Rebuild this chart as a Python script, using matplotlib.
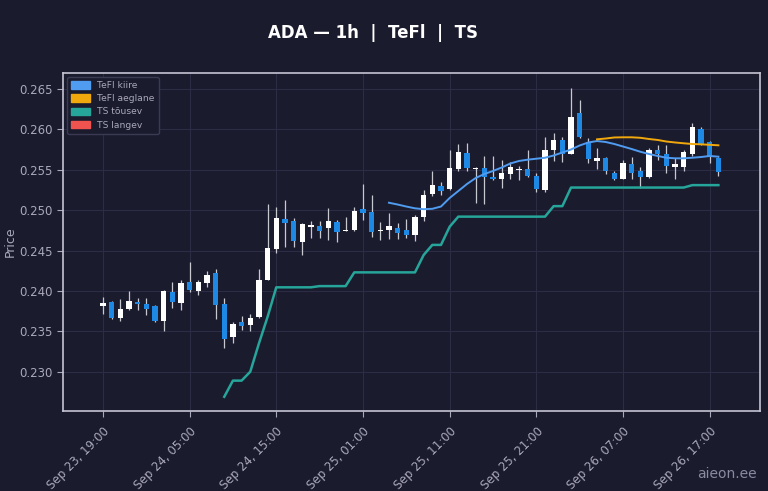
import matplotlib
matplotlib.use('Agg')
import matplotlib.pyplot as plt
from matplotlib.patches import Patch
import numpy as np

# hourly candles, Sep 23 19:00 -> Sep 26 18:00
opens = [0.2381, 0.2386, 0.2366, 0.2378, 0.2386, 0.2384, 0.2381, 0.2363, 0.2399, 0.2385,
         0.2411, 0.2400, 0.2410, 0.2422, 0.2384, 0.2343, 0.2362, 0.2358, 0.2368, 0.2414,
         0.2452, 0.2489, 0.2486, 0.2460, 0.2479, 0.2480, 0.2478, 0.2485, 0.2474, 0.2475,
         0.2502, 0.2498, 0.2474, 0.2476, 0.2478, 0.2475, 0.2469, 0.2492, 0.2520, 0.2530,
         0.2526, 0.2551, 0.2571, 0.2551, 0.2552, 0.2541, 0.2538, 0.2545, 0.2550, 0.2551,
         0.2542, 0.2525, 0.2574, 0.2587, 0.2570, 0.2620, 0.2584, 0.2561, 0.2564, 0.2546,
         0.2539, 0.2557, 0.2549, 0.2541, 0.2575, 0.2570, 0.2554, 0.2554, 0.2570, 0.2601,
         0.2585, 0.2564]
highs = [0.2392, 0.2387, 0.2390, 0.2400, 0.2391, 0.2391, 0.2382, 0.2401, 0.2411, 0.2413,
         0.2436, 0.2413, 0.2425, 0.2427, 0.2391, 0.2361, 0.2369, 0.2371, 0.2427, 0.2508,
         0.2504, 0.2513, 0.2490, 0.2484, 0.2486, 0.2486, 0.2503, 0.2488, 0.2492, 0.2504,
         0.2532, 0.2519, 0.2485, 0.2496, 0.2484, 0.2489, 0.2494, 0.2525, 0.2549, 0.2535,
         0.2575, 0.2582, 0.2583, 0.2554, 0.2567, 0.2567, 0.2562, 0.2560, 0.2555, 0.2575,
         0.2546, 0.2590, 0.2595, 0.2591, 0.2651, 0.2636, 0.2589, 0.2577, 0.2566, 0.2549,
         0.2562, 0.2566, 0.2553, 0.2577, 0.2581, 0.2581, 0.2565, 0.2575, 0.2608, 0.2603,
         0.2586, 0.2566]
lows = [0.2371, 0.2365, 0.2363, 0.2377, 0.2377, 0.2370, 0.2361, 0.2350, 0.2379, 0.2377,
        0.2399, 0.2395, 0.2405, 0.2365, 0.2329, 0.2335, 0.2352, 0.2350, 0.2367, 0.2413,
        0.2447, 0.2455, 0.2454, 0.2445, 0.2465, 0.2465, 0.2463, 0.2461, 0.2474, 0.2474,
        0.2488, 0.2467, 0.2463, 0.2464, 0.2464, 0.2466, 0.2462, 0.2486, 0.2518, 0.2519,
        0.2525, 0.2549, 0.2548, 0.2509, 0.2508, 0.2537, 0.2528, 0.2538, 0.2537, 0.2541,
        0.2523, 0.2522, 0.2561, 0.2560, 0.2569, 0.2589, 0.2558, 0.2551, 0.2545, 0.2537,
        0.2538, 0.2538, 0.2528, 0.2540, 0.2562, 0.2546, 0.2538, 0.2549, 0.2567, 0.2581,
        0.2558, 0.2542]
closes = [0.2385, 0.2366, 0.2378, 0.2387, 0.2384, 0.2378, 0.2363, 0.2400, 0.2386, 0.2410,
          0.2401, 0.2411, 0.2420, 0.2383, 0.2340, 0.2359, 0.2357, 0.2367, 0.2413, 0.2453,
          0.2490, 0.2484, 0.2462, 0.2483, 0.2482, 0.2474, 0.2487, 0.2473, 0.2475, 0.2499,
          0.2497, 0.2473, 0.2476, 0.2480, 0.2472, 0.2469, 0.2492, 0.2519, 0.2531, 0.2524,
          0.2552, 0.2572, 0.2552, 0.2552, 0.2541, 0.2538, 0.2546, 0.2553, 0.2551, 0.2542,
          0.2526, 0.2574, 0.2587, 0.2570, 0.2615, 0.2590, 0.2563, 0.2565, 0.2548, 0.2538,
          0.2559, 0.2546, 0.2541, 0.2575, 0.2570, 0.2555, 0.2557, 0.2572, 0.2603, 0.2582,
          0.2566, 0.2547]

# TeFl kiire starts at candle 33, TeFl aeglane at candle 57, TS tousev at candle 14
tefl_fast = [0.25092, 0.25070, 0.25045, 0.25023, 0.25012, 0.25017, 0.25045, 0.25151, 0.25237, 0.25324,
             0.25398, 0.25448, 0.25485, 0.25528, 0.25578, 0.25609, 0.25625, 0.25637, 0.25649, 0.25677,
             0.25714, 0.25751, 0.25801, 0.25838, 0.25856, 0.25844, 0.25819, 0.25788, 0.25757, 0.25723,
             0.25695, 0.25671, 0.25649, 0.25642, 0.25642, 0.25649, 0.25658, 0.25671, 0.25662]
tefl_slow = [0.25877, 0.25887, 0.25900, 0.25902, 0.25902, 0.25896, 0.25881, 0.25869, 0.25850, 0.25838,
             0.25828, 0.25819, 0.25815, 0.25809, 0.25803]
ts_up = [0.2269, 0.2289, 0.2289, 0.2300, 0.2335, 0.2368, 0.24045, 0.24045, 0.24045, 0.24045,
         0.24045, 0.2406, 0.2406, 0.2406, 0.2406, 0.2423, 0.2423, 0.2423, 0.2423, 0.2423,
         0.2423, 0.2423, 0.2423, 0.24445, 0.2457, 0.2457, 0.24795, 0.2492, 0.2492, 0.2492,
         0.2492, 0.2492, 0.2492, 0.2492, 0.2492, 0.2492, 0.2492, 0.2492, 0.2505, 0.2505,
         0.2528, 0.2528, 0.2528, 0.2528, 0.2528, 0.2528, 0.2528, 0.2528, 0.2528, 0.2528,
         0.2528, 0.2528, 0.2528, 0.2528, 0.2531, 0.2531, 0.2531, 0.2531]

tick_pos = [0, 10, 20, 30, 40, 50, 60, 70]
tick_labels = ['Sep 23, 19:00', 'Sep 24, 05:00', 'Sep 24, 15:00', 'Sep 25, 01:00',
               'Sep 25, 11:00', 'Sep 25, 21:00', 'Sep 26, 07:00', 'Sep 26, 17:00']

bg = '#1b1b2e'
up_col = '#ffffff'
down_col = '#1e88e5'
fast_col = '#4f9cf0'
slow_col = '#f0a80c'
tsu_col = '#26a69a'
tsd_col = '#ef5350'
txt_col = '#a9a9bb'

fig = plt.figure(figsize=(7.68, 4.91), dpi=100, facecolor=bg)
ax = fig.add_axes([63/768, 1 - 411/491, (760-63)/768, (411-73)/491], facecolor=bg)

o = np.array(opens); h = np.array(highs); l = np.array(lows); c = np.array(closes)
x = np.arange(len(o))
up = c >= o
ax.vlines(x, l, h, color='#c8c8d0', linewidth=0.9, zorder=2)
body_h = np.abs(c - o)
body_h = np.maximum(body_h, 0.00006)
ax.bar(x[up], body_h[up], bottom=np.minimum(o, c)[up], width=0.62, color=up_col, zorder=3)
ax.bar(x[~up], body_h[~up], bottom=np.minimum(o, c)[~up], width=0.62, color=down_col, zorder=3)

ax.plot(np.arange(33, 33 + len(tefl_fast)), tefl_fast, color=fast_col, lw=1.4, zorder=4)
ax.plot(np.arange(57, 57 + len(tefl_slow)), tefl_slow, color=slow_col, lw=1.4, zorder=4)
ax.plot(np.arange(14, 14 + len(ts_up)), ts_up, color=tsu_col, lw=1.8, zorder=4)

ax.set_xlim(-4.6, 75.8)
ax.set_ylim(0.22514, 0.26698)
ax.set_yticks([0.230, 0.235, 0.240, 0.245, 0.250, 0.255, 0.260, 0.265])
ax.set_yticklabels(['{:.3f}'.format(v) for v in ax.get_yticks()])
ax.set_xticks(tick_pos)
ax.set_xticklabels(tick_labels, rotation=45, ha='right', rotation_mode='anchor')
ax.tick_params(colors=txt_col, labelsize=8.5, length=4)
ax.tick_params(axis='x', pad=6)
ax.grid(color='#2c2c44', linewidth=0.8)
ax.set_axisbelow(True)
for s in ax.spines.values():
    s.set_color('#c4c4d4')
    s.set_linewidth(1.2)
ax.set_ylabel('Price', color=txt_col, fontsize=9, labelpad=2)

handles = [Patch(color=fast_col, label='TeFl kiire'),
           Patch(color=slow_col, label='TeFl aeglane'),
           Patch(color=tsu_col, label='TS tõusev'),
           Patch(color=tsd_col, label='TS langev')]
leg = ax.legend(handles=handles, loc='upper left', fontsize=6.6, facecolor=bg,
                edgecolor='#3a3a52', framealpha=1, labelcolor=txt_col,
                handlelength=2.0, handleheight=0.9, borderpad=0.5, labelspacing=0.45,
                borderaxespad=0.4)

fig.text(373/768, 1 - 33/491, 'ADA — 1h  |  TeFl  |  TS', color='white', fontsize=12,
         fontweight='bold', ha='center', va='center')
fig.text(757/768, 1 - 474/491, 'aieon.ee', color='#8a8aa0', fontsize=10, ha='right', va='center')

fig.savefig('out.png', dpi=100, facecolor=bg)
